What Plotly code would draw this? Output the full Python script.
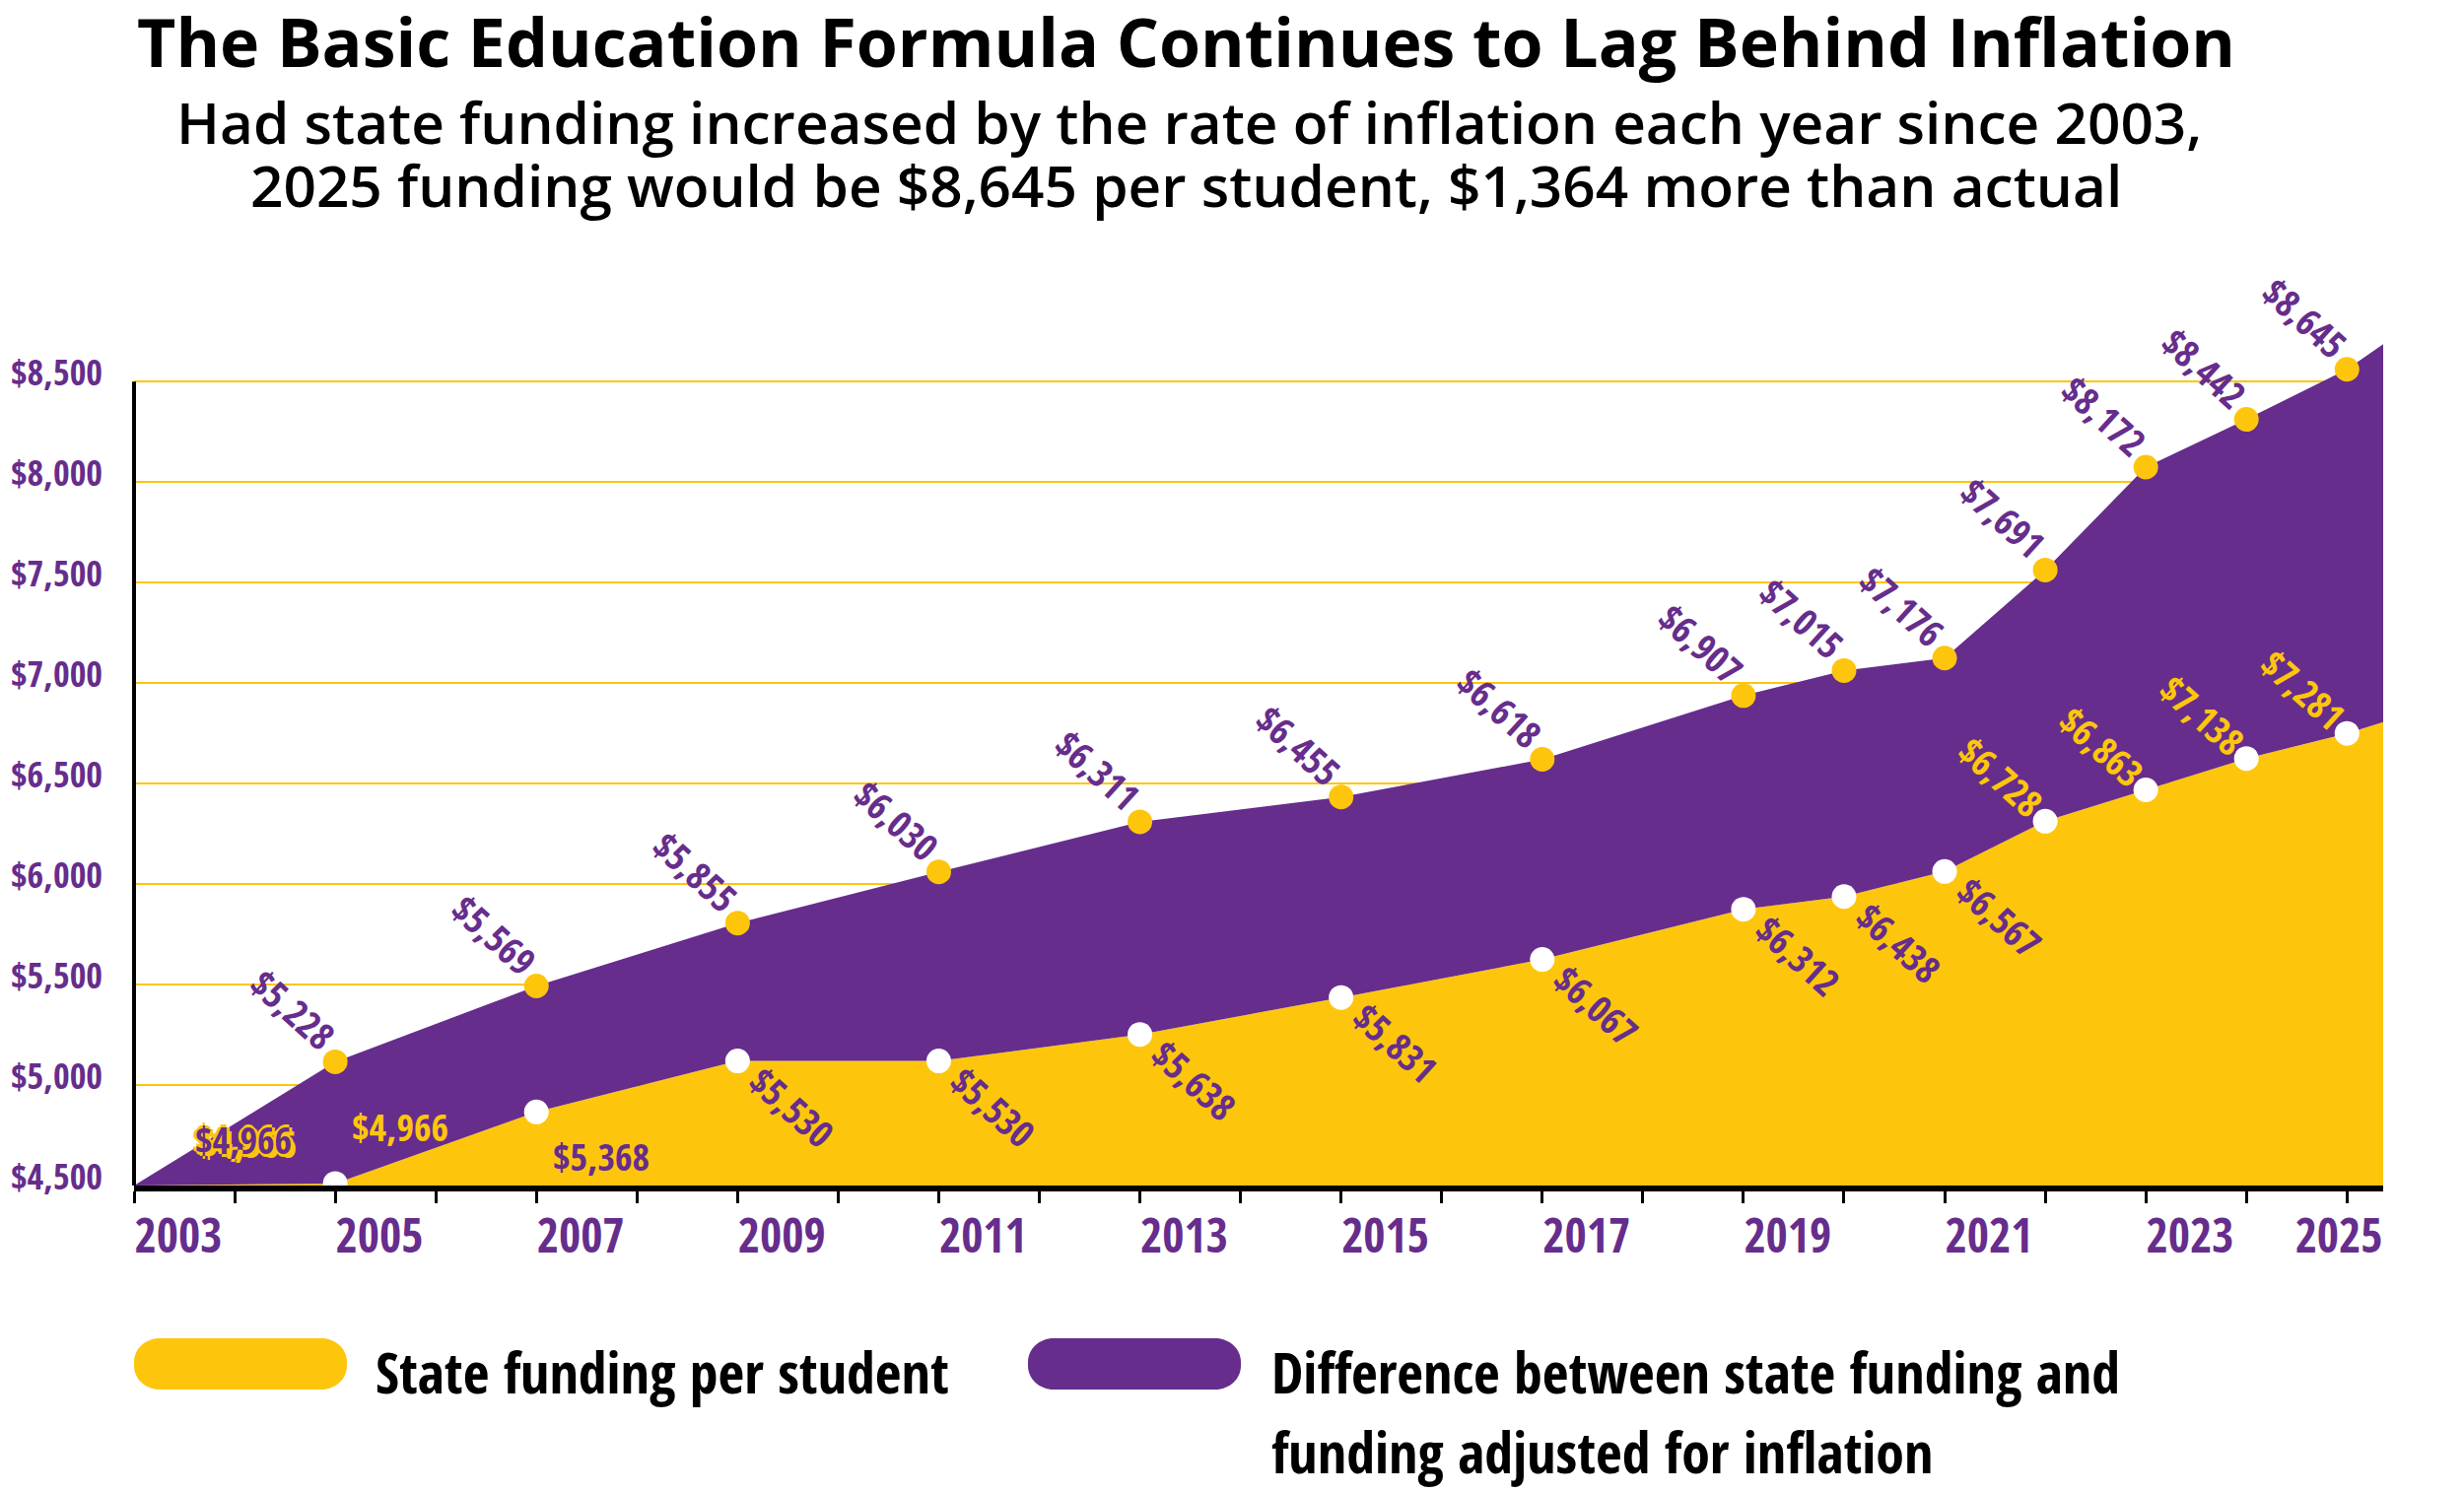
import plotly.graph_objects as go

# chart data
years = [2003, 2005, 2007, 2009, 2011, 2013, 2015, 2017, 2019, 2020, 2021, 2022, 2023, 2024, 2025]
# amounts printed next to the points
funding_labels = [4966, 4966, 5368, 5530, 5530, 5638, 5831, 6067, 6312, 6438, 6567, 6728, 6863, 7138, 7281]
inflation_labels = [4966, 5228, 5569, 5855, 6030, 6311, 6455, 6618, 6907, 7015, 7176, 7691, 8172, 8442, 8645]
# heights the areas are actually drawn at in the original graphic
funding_drawn = [4500, 4510, 4866, 5120, 5120, 5252, 5436, 5625, 5875, 5938, 6063, 6313, 6469, 6625, 6750]
inflation_drawn = [4500, 5116, 5493, 5806, 6061, 6310, 6434, 6621, 6938, 7063, 7125, 7563, 8075, 8313, 8562]
# the areas run on to the right end of the axis
edge_funding = 6806
edge_inflation = 8687

y_ticks = [4500, 5000, 5500, 6000, 6500, 7000, 7500, 8000, 8500]
year_ticks = [2003, 2005, 2007, 2009, 2011, 2013, 2015, 2017, 2019, 2021, 2023, 2025]

PURPLE = "#662D8C"
YELLOW = "#FDC60D"
NARROW = "Open Sans Condensed, Roboto Condensed, sans-serif"
HEAD = "Open Sans, sans-serif"

X_END = 2025.36
Y_TOP = 8850

x_area = years + [X_END]

fig = go.Figure()

# yellow: state funding
fig.add_trace(go.Scatter(
    x=x_area, y=funding_drawn + [edge_funding],
    mode="lines", line=dict(width=0, color=YELLOW),
    fill="tozeroy", fillcolor=YELLOW, hoverinfo="skip", showlegend=False
))
# purple: gap to the inflation adjusted line
fig.add_trace(go.Scatter(
    x=x_area, y=inflation_drawn + [edge_inflation],
    mode="lines", line=dict(width=0, color=PURPLE),
    fill="tonexty", fillcolor=PURPLE, hoverinfo="skip", showlegend=False
))
# dots
fig.add_trace(go.Scatter(
    x=years[1:], y=funding_drawn[1:], mode="markers",
    marker=dict(size=25, color="white", line=dict(width=0)),
    showlegend=False
))
fig.add_trace(go.Scatter(
    x=years[1:], y=inflation_drawn[1:], mode="markers",
    marker=dict(size=25, color=YELLOW, line=dict(width=0)),
    showlegend=False
))

annotations = []


def money(v):
    return "${:,}".format(v)


lab_font = dict(family=NARROW, size=38, weight="bold")

# labels on the inflation adjusted line
for yr, yv, lab in zip(years[1:], inflation_drawn[1:], inflation_labels[1:]):
    annotations.append(dict(
        x=yr, y=yv, text=money(lab), showarrow=False, textangle=42,
        xanchor="right", yanchor="bottom", xshift=14, yshift=-2,
        font=dict(lab_font, color=PURPLE)
    ))

# labels on the state funding line
for yr, yv, lab in zip(years, funding_drawn, funding_labels):
    if yr == 2003:
        annotations.append(dict(
            x=yr, y=yv, text=money(lab), showarrow=False,
            xanchor="left", yanchor="middle", xshift=60, yshift=47,
            font=dict(lab_font, color=PURPLE,
                      shadow="3px 0 %s, -3px 0 %s, 0 3px %s, 0 -3px %s, 5px 4px %s" % ((YELLOW,) * 5))
        ))
    elif yr == 2005:
        annotations.append(dict(
            x=yr, y=yv, text=money(lab), showarrow=False,
            xanchor="left", yanchor="middle", xshift=15, yshift=58,
            font=dict(lab_font, color=YELLOW)
        ))
    elif yr == 2007:
        annotations.append(dict(
            x=yr, y=yv, text=money(lab), showarrow=False,
            xanchor="left", yanchor="middle", xshift=15, yshift=-45,
            font=dict(lab_font, color=PURPLE)
        ))
    elif yr <= 2021:
        annotations.append(dict(
            x=yr, y=yv, text=money(lab), showarrow=False, textangle=42,
            xanchor="left", yanchor="top", xshift=-1, yshift=9,
            font=dict(lab_font, color=PURPLE)
        ))
    else:
        annotations.append(dict(
            x=yr, y=yv, text=money(lab), showarrow=False, textangle=42,
            xanchor="right", yanchor="bottom", xshift=12, yshift=-10,
            font=dict(lab_font, color=YELLOW)
        ))

# titles
annotations.append(dict(
    x=0.468, y=1.31, xref="paper", yref="paper", showarrow=False,
    xanchor="center", yanchor="middle",
    text="The Basic Education Formula Continues to Lag Behind Inflation",
    font=dict(family=HEAD, size=68, color="black", weight="bold")
))
annotations.append(dict(
    x=0.469, y=1.2176, xref="paper", yref="paper", showarrow=False,
    xanchor="center", yanchor="middle",
    text="Had state funding increased by the rate of inflation each year since 2003,",
    font=dict(family=HEAD, size=58.5, color="black", weight=600)
))
annotations.append(dict(
    x=0.468, y=1.145, xref="paper", yref="paper", showarrow=False,
    xanchor="center", yanchor="middle",
    text="2025 funding would be $8,645 per student, $1,364 more than actual",
    font=dict(family=HEAD, size=58.5, color="black", weight=600)
))

# legend text
leg_font = dict(family=NARROW, size=58, color="black", weight="bold")
annotations.append(dict(x=0.1062, y=-0.212, xref="paper", yref="paper", showarrow=False,
                        xanchor="left", yanchor="middle",
                        text="State funding per student", font=leg_font))
annotations.append(dict(x=0.5035, y=-0.212, xref="paper", yref="paper", showarrow=False,
                        xanchor="left", yanchor="middle",
                        text="Difference between state funding and", font=leg_font))
annotations.append(dict(x=0.5035, y=-0.304, xref="paper", yref="paper", showarrow=False,
                        xanchor="left", yanchor="middle",
                        text="funding adjusted for inflation", font=leg_font))


def pill(x0, x1, y0, y1, rx, ry):
    k = 0.5523
    p = "M %f,%f " % (x0 + rx, y1)
    p += "L %f,%f " % (x1 - rx, y1)
    p += "C %f,%f %f,%f %f,%f " % (x1 - rx + k * rx, y1, x1, y1 - ry + k * ry, x1, y1 - ry)
    p += "L %f,%f " % (x1, y0 + ry)
    p += "C %f,%f %f,%f %f,%f " % (x1, y0 + ry - k * ry, x1 - rx + k * rx, y0, x1 - rx, y0)
    p += "L %f,%f " % (x0 + rx, y0)
    p += "C %f,%f %f,%f %f,%f " % (x0 + rx - k * rx, y0, x0, y0 + ry - k * ry, x0, y0 + ry)
    p += "L %f,%f " % (x0, y1 - ry)
    p += "C %f,%f %f,%f %f,%f Z" % (x0, y1 - ry + k * ry, x0 + rx - k * rx, y1, x0 + rx, y1)
    return p


ML, MR, MT, MB = 128, 90, 308, 320
plot_w = 2500 - ML - MR
plot_h = 1515 - MT - MB
rx = 26 / plot_w
ry = 24 / plot_h


def px(v):
    # horizontal pixel position -> paper fraction
    return (v - ML) / plot_w


shapes = [
    dict(type="path", xref="paper", yref="paper",
         path=pill(px(128), px(344), -0.2334, -0.1747, rx, ry),
         fillcolor=YELLOW, line=dict(width=0)),
    dict(type="path", xref="paper", yref="paper",
         path=pill(px(1035), px(1251), -0.2334, -0.1747, rx, ry),
         fillcolor=PURPLE, line=dict(width=0)),
    # left axis line, only up to the top gridline
    dict(type="line", xref="paper", yref="paper", x0=0, x1=0,
         y0=0, y1=(8500 - 4500) / (Y_TOP - 4500),
         line=dict(color="black", width=4), layer="above"),
]

for a in annotations:
    if a.get("xref") == "paper" and a.get("xanchor") == "left":
        a["x"] = px(a["x"] * 2288 + 128)

fig.update_layout(
    width=2500, height=1515,
    margin=dict(l=ML, r=MR, t=MT, b=MB),
    plot_bgcolor="white", paper_bgcolor="white",
    annotations=annotations, shapes=shapes,
    xaxis=dict(
        range=[2003, X_END], showgrid=False, zeroline=False, automargin=False,
        showline=True, linecolor="black", linewidth=6,
        tickmode="array", tickvals=[y + 0.44 for y in year_ticks[:-1]] + [2024.92],
        ticktext=[str(y) for y in year_ticks], ticks="",
        ticklabelstandoff=4,
        tickfont=dict(family=NARROW, size=48, color=PURPLE, weight="bold"),
        minor=dict(tick0=2003, dtick=1, ticks="outside", ticklen=12, tickwidth=3,
                   tickcolor="black", showgrid=False),
    ),
    yaxis=dict(
        range=[4500, Y_TOP], zeroline=False, showline=False, automargin=False,
        tickmode="array", tickvals=y_ticks,
        ticktext=[money(v) for v in y_ticks], ticks="",
        showgrid=True, gridcolor=YELLOW, gridwidth=2,
        ticklabelstandoff=31, ticklabelshift=-9,
        tickfont=dict(family=NARROW, size=36, color=PURPLE, weight="bold"),
    ),
)

fig.write_html("out.html")
